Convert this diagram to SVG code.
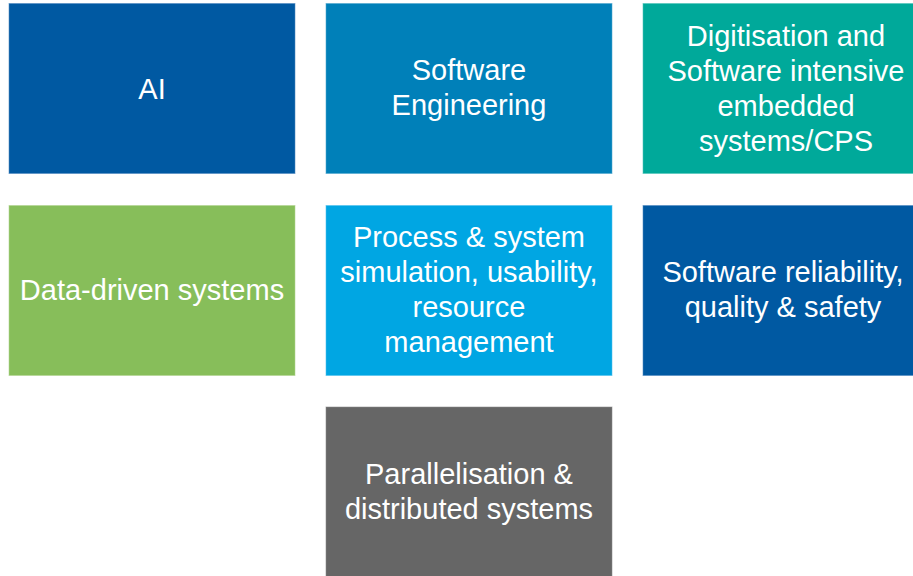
<svg xmlns="http://www.w3.org/2000/svg" width="913" height="576" viewBox="0 0 913 576">
<style>
  .box { stroke-width: 1; stroke-opacity: 0.55; }
  .lbl { font-family: "Liberation Sans", Arial, sans-serif; font-size: 29px; fill: #ffffff; text-anchor: middle; }
</style>
<rect x="0" y="0" width="913" height="576" fill="#ffffff"/>
<g id="connectors"></g>
<g id="ai">
  <rect class="box" x="9" y="3.5" width="286" height="170" fill="#0059A2" stroke="#4d87c0"/>
  <text class="lbl" x="152" y="99">AI</text>
</g>
<g id="software-engineering">
  <rect class="box" x="326" y="3.5" width="286" height="170" fill="#0080B9" stroke="#4da6ce"/>
  <text class="lbl" x="469" y="80">Software</text>
  <text class="lbl" x="469" y="115">Engineering</text>
</g>
<g id="digitisation">
  <rect class="box" x="643" y="3.5" width="286" height="170" fill="#00A99A" stroke="#4dc3b8"/>
  <text class="lbl" x="786" y="46">Digitisation and</text>
  <text class="lbl" x="786" y="81">Software intensive</text>
  <text class="lbl" x="786" y="116">embedded</text>
  <text class="lbl" x="786" y="151">systems/CPS</text>
</g>
<g id="data-driven">
  <rect class="box" x="9" y="205.5" width="286" height="170" fill="#87BE5A" stroke="#b0d48f"/>
  <text class="lbl" x="152" y="300">Data-driven systems</text>
</g>
<g id="process-simulation">
  <rect class="box" x="326" y="205.5" width="286" height="170" fill="#00A6E3" stroke="#4dc0ec"/>
  <text class="lbl" x="469" y="247">Process &amp; system</text>
  <text class="lbl" x="469" y="282">simulation, usability,</text>
  <text class="lbl" x="469" y="317">resource</text>
  <text class="lbl" x="469" y="352">management</text>
</g>
<g id="software-reliability">
  <rect class="box" x="643" y="205.5" width="286" height="170" fill="#0059A2" stroke="#4d87c0"/>
  <text class="lbl" x="783" y="282">Software reliability,</text>
  <text class="lbl" x="783" y="317">quality &amp; safety</text>
</g>
<g id="parallelisation">
  <rect class="box" x="326" y="407" width="286" height="170" fill="#666666" stroke="#888888"/>
  <text class="lbl" x="469" y="484">Parallelisation &amp;</text>
  <text class="lbl" x="469" y="519">distributed systems</text>
</g>
</svg>
